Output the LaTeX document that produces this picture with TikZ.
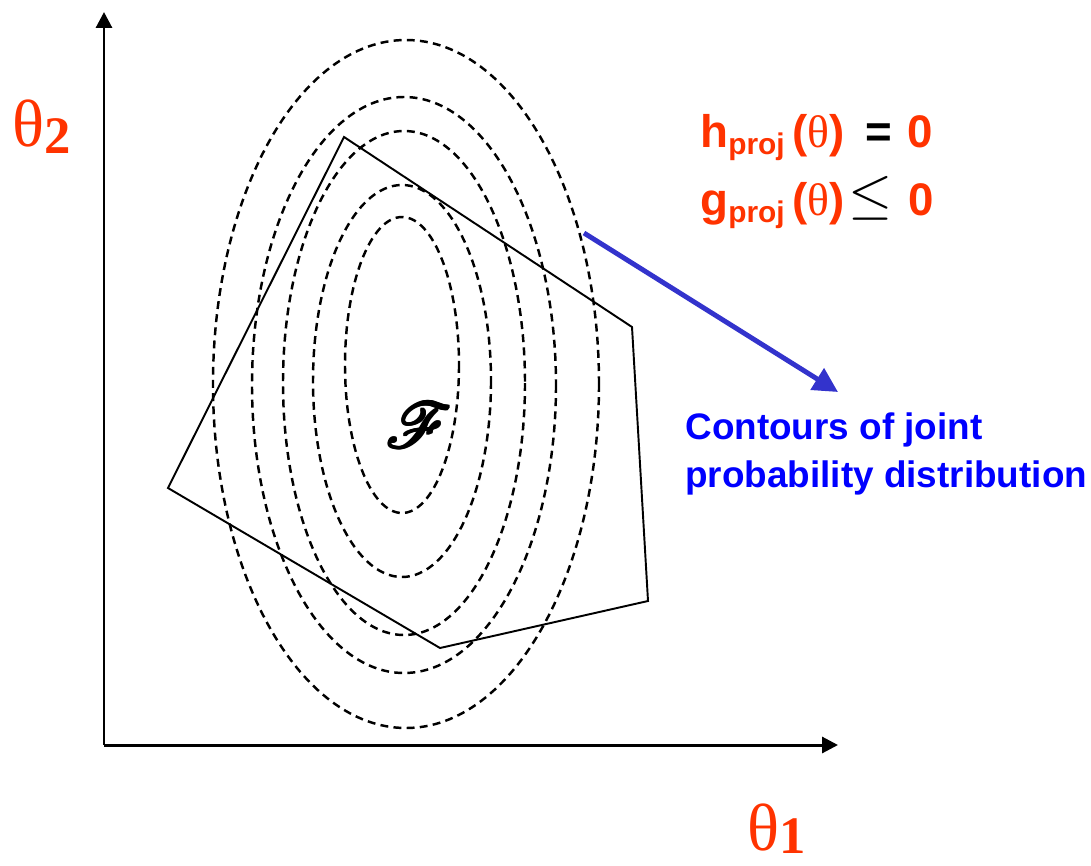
\documentclass[tikz,border=0pt]{standalone}
\usepackage{fontspec}
\usepackage{mathrsfs}
\setmainfont{Liberation Serif}
\newfontfamily\arialb{Liberation Sans}[BoldFont={Liberation Sans Bold}]
\usetikzlibrary{arrows.meta}
\definecolor{hred}{HTML}{FF3300}
\definecolor{tblue}{HTML}{0000FF}
\definecolor{ablue}{HTML}{3333CC}
\tikzset{
  contour/.style={draw=black,line width=1.4pt,dash pattern=on 4.5pt off 3pt},
  region/.style={draw=black,line width=1.1pt,line join=miter},
  axis/.style={line width=1.7pt,-{Triangle[length=9pt,width=9pt]}},
  thetalbl/.style={text=hred,inner sep=0pt,anchor=base west,font=\fontsize{38}{40}\selectfont},
  eqlbl/.style={inner sep=0pt,anchor=base west,font=\fontsize{26}{28}\selectfont\arialb\bfseries},
  bluelbl/.style={inner sep=0pt,anchor=base west,text=tblue,font=\fontsize{21}{24}\selectfont\arialb\bfseries,align=left},
}
\newcommand{\sbs}[1]{\raisebox{-0.3ex}{\fontsize{17}{18}\selectfont #1}}
\newcommand{\fatglyph}[1]{%
  \rlap{#1}\rlap{\kern0.5pt#1}\rlap{\kern1pt#1}%
  \rlap{\raisebox{0.5pt}{#1}}\rlap{\kern0.5pt\raisebox{0.5pt}{#1}}%
  \rlap{\kern1pt\raisebox{0.5pt}{#1}}\rlap{\raisebox{-0.5pt}{#1}}%
  \rlap{\kern0.5pt\raisebox{-0.5pt}{#1}}\kern1pt\raisebox{-0.5pt}{#1}}
\begin{document}
\begin{tikzpicture}[x=0.02cm,y=-0.02cm]
\useasboundingbox (0,0) rectangle (1091,865);
% axes
\coordinate (O) at (104,745);
\coordinate (Ytip) at (104,12);
\coordinate (Xtip) at (838,745);
\draw[axis] (O) -- (Ytip);
\draw[axis] (O) -- (Xtip);
% contours
\draw[contour] (406,384) ellipse [x radius=193, y radius=344];
\draw[contour] (404,385) ellipse [x radius=152, y radius=288];
\draw[contour] (404,383) ellipse [x radius=121, y radius=252];
\draw[contour] (402,381) ellipse [x radius=89, y radius=196];
\draw[contour] (402,365) ellipse [x radius=57, y radius=148];
% feasible region
\coordinate (p1) at (344,137);
\coordinate (p2) at (632,327);
\coordinate (p3) at (648,601);
\coordinate (p4) at (440,648);
\coordinate (p5) at (168,488);
\draw[region] (p1) -- (p2) -- (p3) -- (p4) -- (p5) -- cycle;
% F
\node[inner sep=0pt] (F) at (419,425) {\fatglyph{\scalebox{1.45}{\fontsize{30}{32}\selectfont$\mathscr{F}$}}};
% axis labels
\node[thetalbl] (t2) at (12,146) {θ\raisebox{-0.25ex}{\fontsize{30}{30}\selectfont\bfseries 2}};
\node[thetalbl] (t1) at (747,850) {θ\raisebox{-0.12ex}{\fontsize{30}{30}\selectfont\bfseries 1}};
% equations
\node[eqlbl] (h) at (700,147) {\textcolor{hred}{h\sbs{proj}\,(\textmd{\rmfamily θ})}\hspace{0.45em}=\hspace{0.35em}\textcolor{hred}{0}};
\node[eqlbl] (g) at (700,215) {\textcolor{hred}{g\sbs{proj}\,(\textmd{\rmfamily θ})}\hspace{0.08em}\raisebox{0.05em}{\scalebox{1.3}{\fontsize{28}{30}\selectfont$\leq$}}\hspace{0.35em}\textcolor{hred}{0}};
% arrow
\coordinate (a1) at (584,233);
\coordinate (a2) at (838,392);
\draw[ablue,line width=2.8pt,-{Triangle[length=14pt,width=14pt]}] (a1) -- (a2);
\node[bluelbl] (c1) at (685,439) {Contours of joint};
\node[bluelbl] (c2) at (685,487) {probability distribution};
\end{tikzpicture}
\end{document}
